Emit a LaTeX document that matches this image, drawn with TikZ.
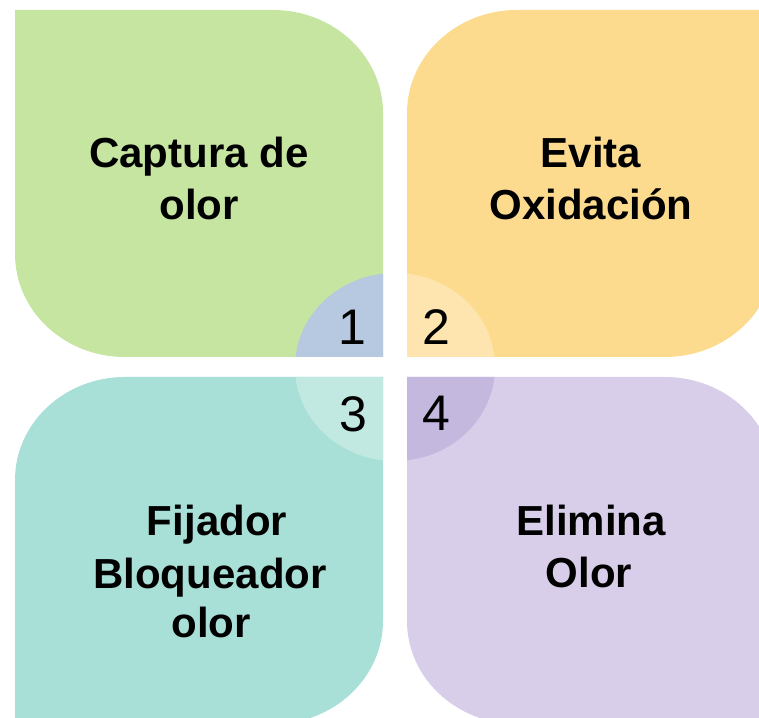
\documentclass[tikz,border=0pt]{standalone}
\usepackage{fontspec}
\setmainfont{Liberation Sans}
\definecolor{cgreen}{HTML}{C5E5A0}
\definecolor{cone}{HTML}{B7C9E1}
\definecolor{corange}{HTML}{FDDB8E}
\definecolor{ctwo}{HTML}{FEE5AF}
\definecolor{cteal}{HTML}{A8E0D8}
\definecolor{cthree}{HTML}{C1E9E2}
\definecolor{cpurple}{HTML}{D8CEEA}
\definecolor{cfour}{HTML}{C4B8DE}
\tikzset{
  lbl/.style={anchor=base,inner sep=0pt,font=\fontsize{42}{50}\selectfont\bfseries},
  num/.style={anchor=base,inner sep=0pt,font=\fontsize{50}{60}\selectfont},
  corner/.style={x radius=110,y radius=103}
}
\begin{document}
\begin{tikzpicture}[x=1pt,y=1pt]
\useasboundingbox (0,0) rectangle (759,717);
\clip (0,0) rectangle (759,717);
\def\greenpath{(15,707) -- (273,707) arc[start angle=90,end angle=0,corner] -- (383,360) -- (125,360) arc[start angle=270,end angle=180,corner] -- cycle}
\def\orangepath{(517,707) -- (775,707) -- (775,463) arc[start angle=0,end angle=-90,corner] -- (407,360) -- (407,604) arc[start angle=180,end angle=90,corner] -- cycle}
\def\tealpath{(125,340) -- (383,340) -- (383,96) arc[start angle=0,end angle=-90,corner] -- (15,-7) -- (15,237) arc[start angle=180,end angle=90,corner] -- cycle}
\def\purplepath{(407,340) -- (665,340) arc[start angle=90,end angle=0,corner] -- (775,-7) -- (517,-7) arc[start angle=270,end angle=180,corner] -- cycle}
\fill[cgreen] \greenpath;
\fill[corange] \orangepath;
\fill[cteal] \tealpath;
\fill[cpurple] \purplepath;
\begin{scope}\clip \greenpath; \fill[cone] (395,350) ellipse[x radius=100,y radius=94];\end{scope}
\begin{scope}\clip \orangepath; \fill[ctwo] (395,350) ellipse[x radius=100,y radius=94];\end{scope}
\begin{scope}\clip \tealpath; \fill[cthree] (395,350) ellipse[x radius=100,y radius=94];\end{scope}
\begin{scope}\clip \purplepath; \fill[cfour] (395,350) ellipse[x radius=100,y radius=94];\end{scope}
% labels
\node[lbl] (g1) at (199,549) {Captura de};
\node[lbl] (g2) at (199,497) {olor};
\node[lbl] (o1) at (591,549) {Evita};
\node[lbl] (o2) at (591,497) {Oxidación};
\node[lbl] (t1) at (217,181) {Fijador};
\node[lbl] (t2) at (210,129) {Bloqueador};
\node[lbl] (t3) at (211,80) {olor};
\node[lbl] (p1) at (591,181) {Elimina};
\node[lbl] (p2) at (589,130) {Olor};
% numbers
\node[num] (n1) at (352,372) {1};
\node[num] (n2) at (436,372) {2};
\node[num] (n3) at (353,285) {3};
\node[num] (n4) at (436,286) {4};
\end{tikzpicture}
\end{document}
